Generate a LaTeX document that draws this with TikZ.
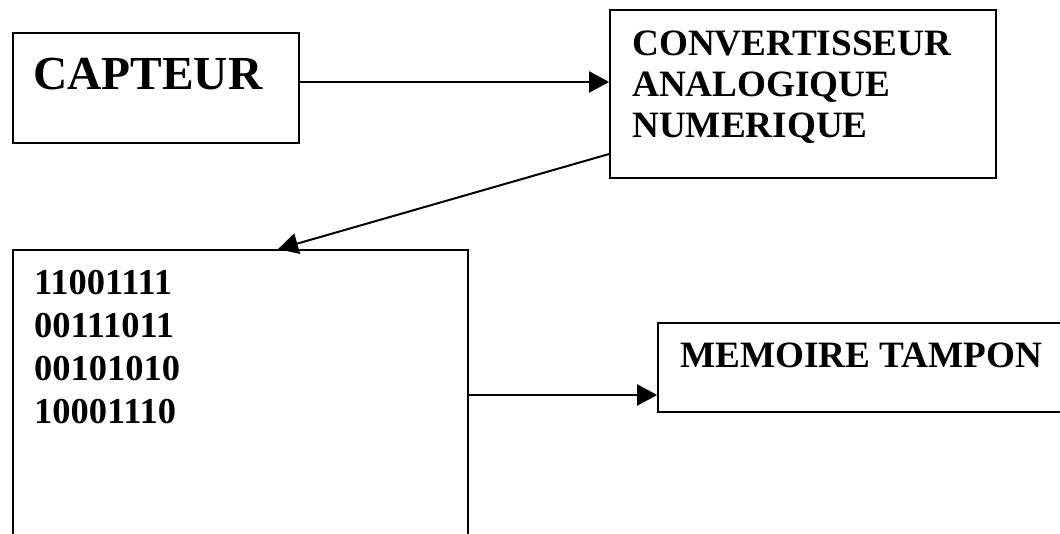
\documentclass[tikz,border=0pt]{standalone}
\usepackage{fontspec}
\setmainfont{Liberation Serif}
\usetikzlibrary{arrows.meta}
\begin{document}
\begin{tikzpicture}[x=1pt,y=-1pt,
  box/.style={draw=black, line width=1.7pt, rectangle, inner sep=0pt},
  lbl/.style={anchor=north west, inner sep=0pt, align=left, font=\bfseries},
  arr/.style={line width=2pt, -{Triangle[length=20pt,width=21pt]}}]
\useasboundingbox (0,0) rectangle (1060,534);
% boxes
\node[box, minimum width=286pt, minimum height=110pt] (capteur) at (156,88) {};
\node[box, minimum width=386pt, minimum height=168pt] (conv) at (803,94) {};
\node[box, minimum width=455pt, minimum height=350pt] (big) at (240.5,425) {};
\node[box, minimum width=412pt, minimum height=89pt] (mem) at (864,367.5) {};
% texts
\node[lbl, font=\bfseries\fontsize{47.4}{50}\selectfont] (tcapteur) at (33,58) {CAPTEUR};
\node[lbl, font=\bfseries\fontsize{37.2}{41}\selectfont] (tconv) at (632,31) {CONVERTISSEUR\\ANALOGIQUE\\NUMERIQUE};
\node[lbl, font=\bfseries\fontsize{36.5}{43}\selectfont] (tbits) at (34,270.5) {11001111\\00111011\\00101010\\10001110};
\node[lbl, font=\bfseries\fontsize{37.2}{40}\selectfont] (tmem) at (680,343) {MEMOIRE TAMPON};
% arrows
\draw[arr] ([yshift=6pt]capteur.east) -- ([yshift=6pt]capteur.east -| conv.west);
\draw[arr] ([yshift=-60pt]conv.west) -- ([xshift=37.5pt]big.north);
\draw[arr] ([yshift=30pt]big.east) -- ([yshift=30pt]big.east -| mem.west);
\end{tikzpicture}
\end{document}
